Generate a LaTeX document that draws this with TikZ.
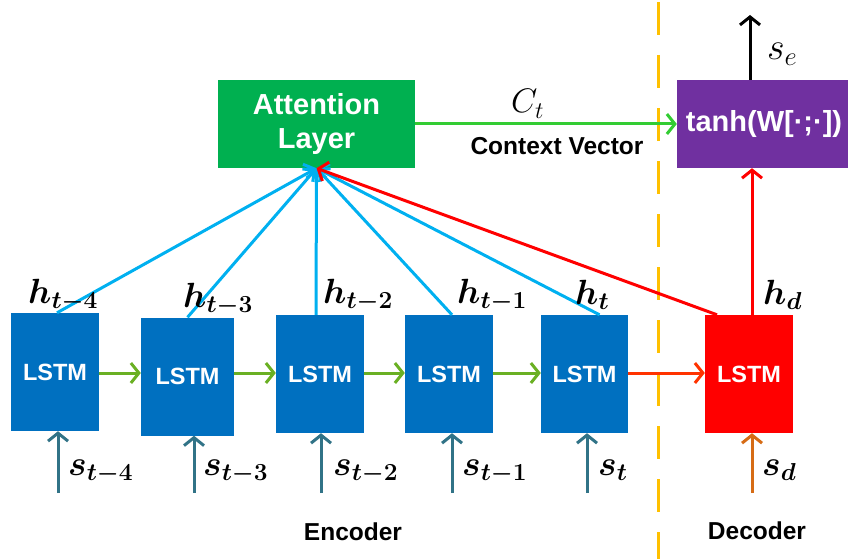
\documentclass[tikz,border=0pt]{standalone}
\usepackage{fix-cm}
\usepackage{bm}
\usepackage{fontspec}
\setmainfont{Liberation Sans}
\usetikzlibrary{arrows.meta}
\definecolor{lstmblue}{HTML}{0070C0}
\definecolor{attgreen}{HTML}{00B050}
\definecolor{tanhpurple}{HTML}{7030A0}
\definecolor{linkblue}{HTML}{00B0F0}
\definecolor{rowgreen}{RGB}{106,176,35}
\definecolor{ctxgreen}{HTML}{33CC33}
\definecolor{redorange}{HTML}{FF3300}
\definecolor{inteal}{RGB}{49,115,135}
\definecolor{inorange}{RGB}{214,108,22}
\definecolor{divorange}{HTML}{FFC000}
\tikzset{
  barb/.tip={Straight Barb[length=8pt,width=20pt]},
  lstmbox/.style={fill=lstmblue, text=white, font=\fontsize{23.5}{23.5}\selectfont\bfseries, minimum width=88pt, minimum height=118pt, inner sep=0pt},
  arr/.style={line width=3pt, -barb},
  mathlbl/.style={anchor=base west, inner sep=0pt, font=\fontsize{35}{35}\selectfont},
  txtlbl/.style={anchor=base, inner sep=0pt, font=\fontsize{24.5}{24.5}\selectfont\bfseries},
}
\begin{document}
\begin{tikzpicture}[x=1pt,y=-1pt]
\useasboundingbox (0,0) rectangle (848,559);
% boxes
\node[lstmbox] (l1) at (55,372) {LSTM};
\node[lstmbox, minimum width=93pt] (l2) at (187.5,376.5) {LSTM};
\node[lstmbox] (l3) at (320,374) {LSTM};
\node[lstmbox] (l4) at (449,374) {LSTM};
\node[lstmbox, minimum width=87pt] (l5) at (584.5,374) {LSTM};
\node[lstmbox, fill=red] (dec) at (749,374) {LSTM};
\node[fill=attgreen, text=white, align=center, minimum width=197pt, minimum height=88pt, inner sep=0pt,
      font=\fontsize{29}{34}\selectfont\bfseries] (att) at (316.5,124) {Attention\\Layer};
\node[fill=tanhpurple, text=white, minimum width=174pt, minimum height=88pt, inner sep=0pt,
      font=\fontsize{29}{29}\selectfont\bfseries] (tanh) at (764,124) {tanh(W[·;·])};
% divider
\coordinate (dtop) at (658,2);
\coordinate (dbot) at (658,559);
\draw[divorange, line width=3pt, dash pattern=on 33pt off 20pt] (dtop) -- (dbot);
% recurrent row
\coordinate (row) at (0,373);
\draw[arr, rowgreen] (l1.east |- row) -- (l2.west |- row);
\draw[arr, rowgreen] (l2.east |- row) -- (l3.west |- row);
\draw[arr, rowgreen] (l3.east |- row) -- (l4.west |- row);
\draw[arr, rowgreen] (l4.east |- row) -- (l5.west |- row);
\draw[arr, redorange] (l5.east |- row) -- (dec.west |- row);
% attention links
\draw[arr, linkblue] ([xshift=2pt]l1.north) -- (att.south);
\draw[arr, linkblue] (l2.north) -- (att.south);
\draw[arr, linkblue] ([xshift=-4pt]l3.north) -- (att.south);
\draw[arr, linkblue] ([xshift=3pt]l4.north) -- (att.south);
\draw[arr, linkblue] ([xshift=15pt]l5.north) -- (att.south);
\draw[arr, red] ([xshift=-32pt]dec.north) -- (att.south);
% decoder to tanh
\draw[arr, red] ([xshift=3pt]dec.north) -- ([xshift=3pt]dec.north |- tanh.south);
% context vector
\draw[arr, ctxgreen] (att.east) -- (tanh.west);
\node[mathlbl, font=\fontsize{34}{34}\selectfont] (ct) at (511,113) {$C_t$};
\node[txtlbl] (cv) at (557,154) {Context Vector};
% output
\coordinate (seout) at (750,15);
\draw[arr, black] (tanh.north -| seout) -- (seout);
\node[mathlbl, font=\fontsize{38}{38}\selectfont] (se) at (767,60) {$s_e$};
% inputs
\coordinate (i1) at (58,493);
\coordinate (i2) at (194,493);
\coordinate (i3) at (321,493);
\coordinate (i4) at (452,493);
\coordinate (i5) at (587,493);
\coordinate (i6) at (752,493);
\draw[arr, inteal] (i1) -- (i1 |- l1.south);
\draw[arr, inteal] (i2) -- (i2 |- l2.south);
\draw[arr, inteal] (i3) -- (i3 |- l3.south);
\draw[arr, inteal] (i4) -- (i4 |- l4.south);
\draw[arr, inteal] (i5) -- (i5 |- l5.south);
\draw[arr, inorange] (i6) -- (i6 |- dec.south);
% h labels
\node[mathlbl] (h1) at (28,303) {$\bm{h_{t-4}}$};
\node[mathlbl] (h2) at (183,307) {$\bm{h_{t-3}}$};
\node[mathlbl] (h3) at (323,303) {$\bm{h_{t-2}}$};
\node[mathlbl] (h4) at (457,303) {$\bm{h_{t-1}}$};
\node[mathlbl] (h5) at (575,304) {$\bm{h_{t}}$};
\node[mathlbl] (h6) at (763,304) {$\bm{h_{d}}$};
% s labels
\node[mathlbl] (s1) at (68,475) {$\bm{s_{t-4}}$};
\node[mathlbl] (s2) at (203,475) {$\bm{s_{t-3}}$};
\node[mathlbl] (s3) at (333,475) {$\bm{s_{t-2}}$};
\node[mathlbl] (s4) at (462,475) {$\bm{s_{t-1}}$};
\node[mathlbl] (s5) at (598,475) {$\bm{s_{t}}$};
\node[mathlbl] (s6) at (762,475) {$\bm{s_{d}}$};
% section labels
\node[txtlbl] (enc) at (353,540) {Encoder};
\node[txtlbl] (decl) at (757,539) {Decoder};
\end{tikzpicture}
\end{document}
